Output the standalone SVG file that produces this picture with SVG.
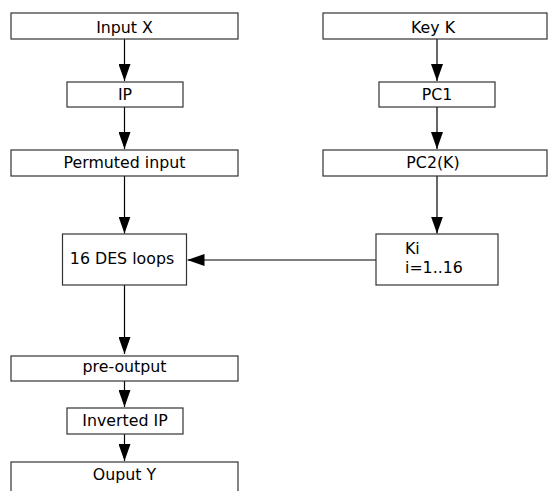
<svg xmlns="http://www.w3.org/2000/svg" width="548" height="491" viewBox="0 0 548 491">
<style>
.box{fill:#fff;stroke:#333;stroke-width:1.2}
.t{font-family:"DejaVu Sans",sans-serif;font-size:15.8px;fill:#000;text-anchor:middle}
.tl{font-family:"DejaVu Sans",sans-serif;font-size:15.8px;fill:#000}
.c{stroke:#000;stroke-width:1.2;fill:none;marker-end:url(#ah)}
</style>
<defs>
<marker id="ah" viewBox="0 0 17 12" refX="17" refY="6" markerWidth="17" markerHeight="12" orient="auto" markerUnits="userSpaceOnUse">
<path d="M0,0 L17,6 L0,12 z" fill="#000"/>
</marker>
</defs>
<rect width="548" height="491" fill="#fff"/>
<g id="connectors">
<line class="c" x1="124.5" y1="39" x2="124.5" y2="81"/>
<line class="c" x1="124.5" y1="107" x2="124.5" y2="149"/>
<line class="c" x1="124.5" y1="176" x2="124.5" y2="233.5"/>
<line class="c" x1="124.5" y1="285" x2="124.5" y2="354"/>
<line class="c" x1="124.5" y1="381" x2="124.5" y2="407"/>
<line class="c" x1="124.5" y1="434" x2="124.5" y2="461"/>
<line class="c" x1="437" y1="39" x2="437" y2="81"/>
<line class="c" x1="437" y1="107" x2="437" y2="149"/>
<line class="c" x1="437" y1="176" x2="437" y2="233.5"/>
<line class="c" x1="376" y1="260" x2="187.5" y2="260"/>
</g>
<g id="inputX"><rect class="box" x="11" y="13" width="227" height="26"/><text class="t" x="124.5" y="32.5">Input X</text></g>
<g id="ip"><rect class="box" x="67" y="82" width="116" height="25"/><text class="t" x="125" y="100">IP</text></g>
<g id="permuted"><rect class="box" x="11" y="150" width="227" height="26"/><text class="t" x="124.5" y="168">Permuted input</text></g>
<g id="des"><rect class="box" x="62.5" y="234" width="124" height="51"/><text class="t" x="122" y="263.5">16 DES loops</text></g>
<g id="preoutput"><rect class="box" x="11" y="356" width="227" height="25"/><text class="t" x="124.5" y="372">pre-output</text></g>
<g id="invip"><rect class="box" x="67" y="408" width="116" height="26"/><text class="t" x="125" y="426">Inverted IP</text></g>
<g id="outputY"><rect class="box" x="11" y="462" width="227" height="40"/><text class="t" x="124.5" y="480">Ouput Y</text></g>
<g id="keyK"><rect class="box" x="323" y="13" width="224" height="26"/><text class="t" x="433" y="32.5">Key K</text></g>
<g id="pc1"><rect class="box" x="379" y="82" width="116" height="25"/><text class="t" x="437" y="100">PC1</text></g>
<g id="pc2"><rect class="box" x="323" y="150" width="224" height="26"/><text class="t" x="433" y="168">PC2(K)</text></g>
<g id="ki"><rect class="box" x="376" y="234" width="122" height="51"/><text class="tl" x="405" y="253.5">Ki</text><text class="tl" x="405" y="272.5">i=1..16</text></g>
</svg>
